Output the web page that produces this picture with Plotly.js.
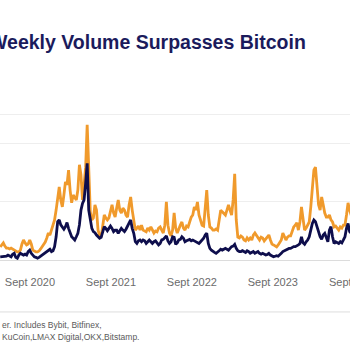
<!DOCTYPE html>
<html>
<head>
<meta charset="utf-8">
<script src="https://cdn.plot.ly/plotly-3.0.1.min.js"></script>
<style>html,body{margin:0;padding:0;background:#fff;overflow:hidden;width:350px;height:350px;}#chart{width:380px;height:350px;}</style>
</head>
<body>
<div id="chart"></div>
<script>
// weekly series, starting week of 2020-04-20
const startWeek = "2020-04-20";
const orangeSeries = [
4.5,5.2,5.9,4.8,4.1,4.1,3.8,4.1,3.8,3.4,
3.1,2.8,2.8,3.4,5.5,6.9,5.9,5.2,5.5,6.9,
5.5,3.4,3.1,2.8,2.8,3.1,3.8,4.5,5.2,6.2,
7.6,9.3,8.6,10.3,11.4,13.8,17.2,22.4,25.2,20.7,
18.3,22.4,26.9,25.9,31,24.1,19.7,22.4,21.7,20.7,
24.1,32.8,29.3,20.7,25.9,32,46.6,27.6,16.6,13.8,
14.5,19,17.2,10.3,8.6,7.9,12,15.5,14.5,13.8,
14.5,16.6,19,16.2,14.8,17.9,20.7,17.2,16.2,17.9,
17.2,15.5,14.8,19,21.7,17.2,13.1,10.3,11,11.7,
10.3,12,10.3,10,9.7,11,10.3,11.4,10.3,9.3,
10,9.7,11,11.4,10.3,9.3,12,20,12,9.3,
8.3,10.3,16.2,11,9.3,11,12,13.1,11,10.3,
11.7,11.4,13.1,14.8,15.5,18.3,17.2,20,15.5,13.8,
12,11.7,19,24.1,15.5,11.4,11,10.3,10.3,10.7,
10.3,13.1,17.2,16.6,16.2,15.5,17.2,19,17.2,15.5,
20.7,29.7,13.8,7.9,7.6,8.3,7.9,6.9,6.6,7.6,
6.9,7.6,6.9,8.6,9.3,8.6,7.6,6.9,7.9,7.6,
6.6,7.2,7.9,8.6,6.9,5.5,5.2,4.8,4.5,5.2,
5.9,6.9,9.3,7.9,6.9,7.9,8.3,8.3,10.3,11.4,
12,12.8,10.3,13.1,18.3,13.1,10.3,11,12,13.1,
18.3,24.1,31,32,25.9,19,17.2,21.7,19,16.2,
14.8,14.8,15.5,13.8,13.1,11.4,11.7,11,10.3,11.4,
11,12,12,15.5,19.7,17.2,15.5,13.8
];
const navySeries = [
1.1,1.1,1.3,1.1,1.3,1.7,1.3,1.1,2,2.3,
0.9,0.6,1.7,2.3,2,1.7,2,1.7,2.9,3.4,
2.3,1.7,1.1,0.9,0.6,0.9,1.3,1.7,2,2.3,
2.6,3.2,3.7,2.9,3.2,4.6,8,13.2,13.8,12.1,
11.3,10.6,11.5,12.9,10.9,9.2,8,7.5,6.9,8,
9.2,12.1,17.2,19.5,20.7,26.4,33.3,17.2,13.2,10.9,
9.8,9.4,8.6,8,7.5,7.8,9.8,11.5,10.9,10.1,
10.9,11.7,10.9,9.8,10.3,10.3,9.2,10.1,10.9,10.3,
9.8,10.6,11.5,12.6,13.8,10.9,9.2,6.3,5.7,6.6,
6.9,6.3,6.9,6.6,5.7,6.3,6.9,6.3,5.7,6.3,
6.6,5.9,5.2,5.7,6.9,7.1,7.8,8.3,6.6,5.7,
6.3,8,7.8,5.4,5.9,6.9,7.1,8,7.5,6.3,
6.6,6.9,7.1,6.6,6.9,6.6,6.3,5.9,5.7,6.3,
6.9,7.5,8.6,9.2,5.7,4,3.4,2.9,2.6,2.3,
2.6,3.2,3.7,3.4,3.7,4,3.7,3.4,4,4.6,
4.8,5.4,4,3.2,2.9,2.9,3.2,2.9,2.6,3.2,
2.9,2.3,2.6,2.9,2.3,2.6,2.9,2.3,2,2.3,
2,1.7,1.9,2.3,1.7,1.3,1.1,1.3,1.5,1.3,
1.7,2.3,2.9,3.2,3.4,3.7,4,4,4.4,4.6,
4.6,4.8,5.2,5.7,8,5.9,5.4,6.3,6.9,8,
10.9,12.6,13.8,13.2,11.5,9.2,8,7.1,8.6,9.2,
8,6.3,10.3,11.5,8,5.7,6.3,5.9,5.7,6.3,
5.9,6.9,8,10.9,12.6,9.8,9.2,8.6
];
const tickDates = ["2020-09-01","2021-09-01","2022-09-01","2023-09-01","2024-09-01"];
const tickLabels = ["Sept 2020","Sept 2021","Sept 2022","Sept 2023","Sept 2024"];
const gridValues = [0, 20, 40, 50];
const titleText = "Weekly Volume Surpasses Bitcoin";
const noteLines = ["er. Includes Bybit, Bitfinex,", "KuCoin,LMAX Digital,OKX,Bitstamp."];

function weekDates(n) {
  const out = [];
  const d0 = new Date(startWeek + "T00:00:00Z");
  for (let i = 0; i < n; i++) {
    const d = new Date(d0.getTime() + i * 7 * 86400000);
    out.push(d.toISOString().slice(0, 10));
  }
  return out;
}
const dates = weekDates(orangeSeries.length);

const traces = [
  {x: dates, y: orangeSeries, type: "scatter", mode: "lines",
   line: {color: "#F09A2C", width: 2.8}, hoverinfo: "skip"},
  {x: dates, y: navySeries, type: "scatter", mode: "lines",
   line: {color: "#0E0E4C", width: 2.8}, hoverinfo: "skip"}
];

const W = 380;
const layout = {
  width: W, height: 350,
  margin: {l: 0, r: 0, t: 112, b: 90},
  paper_bgcolor: "#ffffff", plot_bgcolor: "#ffffff",
  showlegend: false,
  font: {family: "Liberation Sans, Arial, sans-serif"},
  xaxis: {
    type: "date",
    range: ["2020-04-19", "2024-12-27"],
    tickvals: tickDates, ticktext: tickLabels,
    ticks: "", showgrid: false, zeroline: false,
    showline: true, linecolor: "#dcdcdc", linewidth: 1,
    tickfont: {size: 11, color: "#6b6b6b"},
    ticklabelstandoff: 12
  },
  yaxis: {
    range: [0, 51],
    tickvals: gridValues, showticklabels: false,
    showgrid: true, gridcolor: "#eeeeee", gridwidth: 1,
    zeroline: false, showline: false, ticks: ""
  },
  shapes: [
    {type: "line", xref: "paper", yref: "paper", x0: 0, x1: 1, y0: -0.351, y1: -0.351,
     line: {color: "#dddddd", width: 1}}
  ],
  annotations: [
    {text: "<b>" + titleText + "</b>", xref: "paper", yref: "paper",
     x: -13/W, y: 1.473, xanchor: "left", yanchor: "middle", showarrow: false,
     font: {size: 19.5, color: "#1B1B5C", family: "Liberation Sans, Arial, sans-serif"}},
    {text: noteLines[0], xref: "paper", yref: "paper", x: 0, y: -0.439,
     xanchor: "left", yanchor: "middle", showarrow: false,
     font: {size: 8.5, color: "#5a5a5a"}},
    {text: noteLines[1], xref: "paper", yref: "paper", x: 0, y: -0.520,
     xanchor: "left", yanchor: "middle", showarrow: false,
     font: {size: 8.5, color: "#5a5a5a"}}
  ]
};

Plotly.newPlot("chart", traces, layout, {staticPlot: true, displayModeBar: false});
</script>
</body>
</html>
